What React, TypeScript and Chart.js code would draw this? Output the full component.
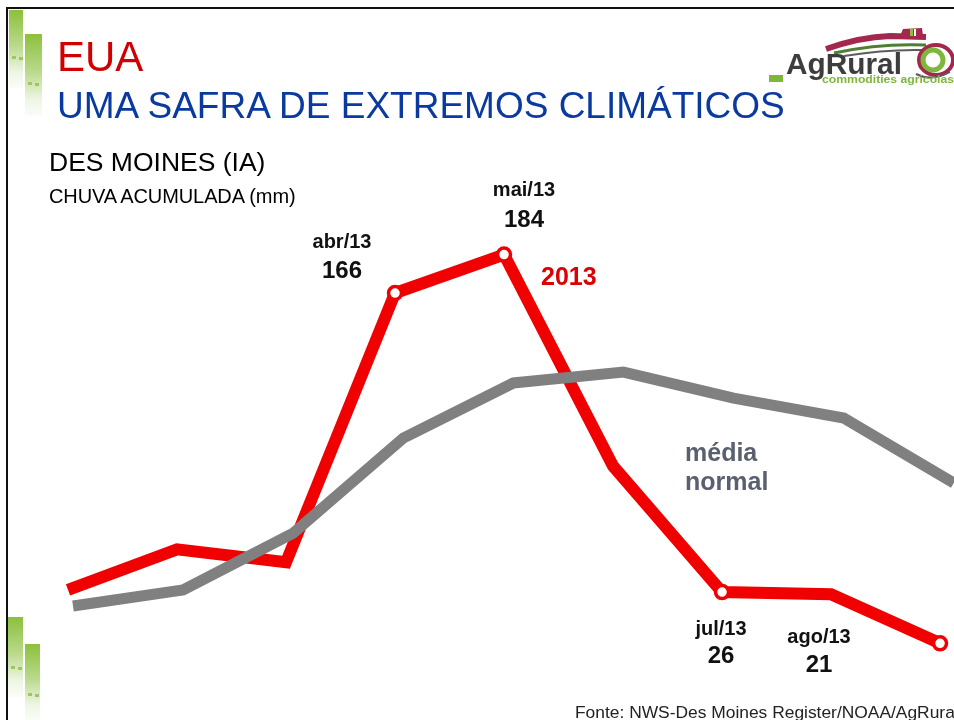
import React, { useEffect, useRef } from 'react';
import { Chart, registerables } from 'chart.js';

Chart.register(...registerables);

// ---- data ----
const months = ['jan/13', 'fev/13', 'mar/13', 'abr/13', 'mai/13', 'jun/13', 'jul/13', 'ago/13', 'set/13'];
const rain2013 = [27, 46, 40, 166, 184, 85, 26, 25, 2];
const rainNormal = [19.5, 27, 53.6, 98.1, 123.9, 129, 116.8, 107.5, 77];
const markedMonths = ['abr/13', 'mai/13', 'jul/13', 'set/13'];

const labelMonths = ['abr/13', 'mai/13', 'jul/13', 'ago/13'];
const labelValues = ['166', '184', '26', '21'];

// ---- layout of annotations (positions, not data) ----
const labelPos = [
  { cx: 342, b1: 248, b2: 278 },
  { cx: 524, b1: 196, b2: 227 },
  { cx: 721, b1: 635, b2: 663 },
  { cx: 819, b1: 643, b2: 672 },
];

const FONT = '"Liberation Sans", Arial, Helvetica, sans-serif';

type TxtProps = {
  x: number;
  baseline: number;
  size: number;
  bold?: boolean;
  color?: string;
  center?: boolean;
  spacing?: number;
  children: React.ReactNode;
};

function Txt({ x, baseline, size, bold, color, center, spacing, children }: TxtProps) {
  return (
    <div
      style={{
        position: 'absolute',
        left: x,
        top: baseline - 0.8465 * size,
        fontSize: size,
        lineHeight: `${size}px`,
        fontFamily: FONT,
        fontWeight: bold ? 700 : 400,
        color: color || '#000',
        whiteSpace: 'nowrap',
        letterSpacing: spacing || 0,
        transform: center ? 'translateX(-50%)' : undefined,
      }}
    >
      {children}
    </div>
  );
}

function GreenBar({ x, y, w, h, dotY }: { x: number; y: number; w: number; h: number; dotY: number }) {
  return (
    <>
      <div
        style={{
          position: 'absolute',
          left: x,
          top: y,
          width: w,
          height: h,
          background: 'linear-gradient(to bottom, #8cc03c 0%, #b9d98a 45%, #eef6e4 80%, #fbfdf8 100%)',
        }}
      />
      <div style={{ position: 'absolute', left: x + 3, top: dotY, width: 4, height: 3, background: '#9cc860' }} />
      <div style={{ position: 'absolute', left: x + 10, top: dotY + 1, width: 4, height: 3, background: '#9cc860' }} />
    </>
  );
}

function Logo() {
  return (
    <svg width={214} height={80} style={{ position: 'absolute', left: 740, top: 20 }}>
      <path d="M 86 29 Q 120 17 150 16 L 186 17" stroke="#a3284e" strokeWidth={6} fill="none" />
      <path d="M 94 33 Q 140 23 186 25" stroke="#4f7f34" strokeWidth={3} fill="none" />
      <path d="M 104 36 Q 146 29 184 30" stroke="#5c5c5c" strokeWidth={2} fill="none" />
      <path d="M 160 16 L 163 9 L 182 8 L 183 16 Z" fill="#a3284e" />
      <rect x={170} y={9} width={3} height={7} fill="#8cc03c" />
      <rect x={174} y={9} width={2} height={7} fill="#ffffff" />
      <ellipse cx={196} cy={40} rx={17} ry={15} stroke="#a3284e" strokeWidth={4} fill="none" />
      <ellipse cx={193} cy={40} rx={10} ry={10} stroke="#7db83a" strokeWidth={5} fill="#ffffff" />
      <path d="M 176 54 Q 192 62 210 52" stroke="#5c5c5c" strokeWidth={2} fill="none" />
      <rect x={29} y={55} width={14} height={7} fill="#7db83a" />
      <text x={46} y={54} fontFamily={FONT} fontWeight={700} fontSize={29} fill="#3d3d3d" textLength={116} lengthAdjust="spacingAndGlyphs">
        AgRural
      </text>
      <text x={82} y={63} fontFamily={FONT} fontWeight={700} fontSize={11.5} fill="#7db83a" textLength={132} lengthAdjust="spacingAndGlyphs">
        commodities agricolas
      </text>
    </svg>
  );
}

export default function App() {
  const canvasRef = useRef<HTMLCanvasElement | null>(null);

  useEffect(() => {
    const canvas = canvasRef.current;
    if (!canvas) return;
    const idx = months.map((_, i) => i);
    const radius = months.map((m) => (markedMonths.includes(m) ? 6.5 : 0));
    const chart = new Chart(canvas, {
      type: 'line',
      data: {
        datasets: [
          {
            label: 'média normal',
            data: idx.map((i) => ({ x: i, y: rainNormal[i] })),
            xAxisID: 'xGray',
            yAxisID: 'y',
            borderColor: '#808080',
            borderWidth: 11,
            borderJoinStyle: 'miter',
            pointRadius: 0,
            tension: 0,
            order: 0,
          },
          {
            label: '2013',
            data: idx.map((i) => ({ x: i, y: rain2013[i] })),
            xAxisID: 'x',
            yAxisID: 'y',
            borderColor: '#f00000',
            borderWidth: 12,
            borderJoinStyle: 'miter',
            pointRadius: radius,
            pointBorderWidth: 3.5,
            pointBorderColor: '#f00000',
            pointBackgroundColor: '#ffffff',
            tension: 0,
            order: 1,
          },
        ],
      },
      options: {
        responsive: false,
        animation: false,
        events: [],
        layout: { padding: 0, autoPadding: false },
        plugins: { legend: { display: false }, tooltip: { enabled: false } },
        scales: {
          x: { type: 'linear', display: false, min: -0.624, max: 8.128 },
          xGray: { type: 'linear', display: false, min: -0.663, max: 8.002 },
          y: { type: 'linear', display: false, min: -33.9, max: 303.2 },
        },
      },
    });
    return () => chart.destroy();
  }, []);

  return (
    <div
      style={{
        position: 'fixed',
        left: 0,
        top: 0,
        width: 954,
        height: 720,
        overflow: 'hidden',
        background: '#ffffff',
        fontFamily: FONT,
      }}
    >
      <canvas ref={canvasRef} width={954} height={720} style={{ position: 'absolute', left: 0, top: 0, display: 'block' }} />

      {/* slide frame */}
      <div style={{ position: 'absolute', left: 6, top: 7, width: 948, height: 2, background: '#111' }} />
      <div style={{ position: 'absolute', left: 6, top: 7, width: 2, height: 713, background: '#111' }} />

      <GreenBar x={9} y={10} w={14} h={78} dotY={56} />
      <GreenBar x={25} y={34} w={17} h={82} dotY={82} />
      <GreenBar x={8} y={617} w={15} h={80} dotY={666} />
      <GreenBar x={25} y={644} w={15} h={76} dotY={693} />

      <Logo />

      <Txt x={57} baseline={72} size={42} color="#d00000">EUA</Txt>
      <Txt x={57} baseline={118} size={37} color="#0a3aa0">UMA SAFRA DE EXTREMOS CLIMÁTICOS</Txt>
      <Txt x={49} baseline={171} size={26.5}>DES MOINES (IA)</Txt>
      <Txt x={49} baseline={203} size={20} spacing={-0.1}>CHUVA ACUMULADA (mm)</Txt>

      {labelMonths.map((m, i) => (
        <React.Fragment key={m}>
          <Txt x={labelPos[i].cx} baseline={labelPos[i].b1} size={20} bold center color="#111">{m}</Txt>
          <Txt x={labelPos[i].cx} baseline={labelPos[i].b2} size={24} bold center color="#111">{labelValues[i]}</Txt>
        </React.Fragment>
      ))}

      <Txt x={541} baseline={285} size={25} bold color="#dd0000">2013</Txt>
      <Txt x={685} baseline={461} size={25} bold color="#5a6070">média</Txt>
      <Txt x={685} baseline={490} size={25} bold color="#5a6070">normal</Txt>

      <Txt x={575} baseline={719} size={17.4} color="#222">Fonte: NWS-Des Moines Register/NOAA/AgRural</Txt>
    </div>
  );
}
